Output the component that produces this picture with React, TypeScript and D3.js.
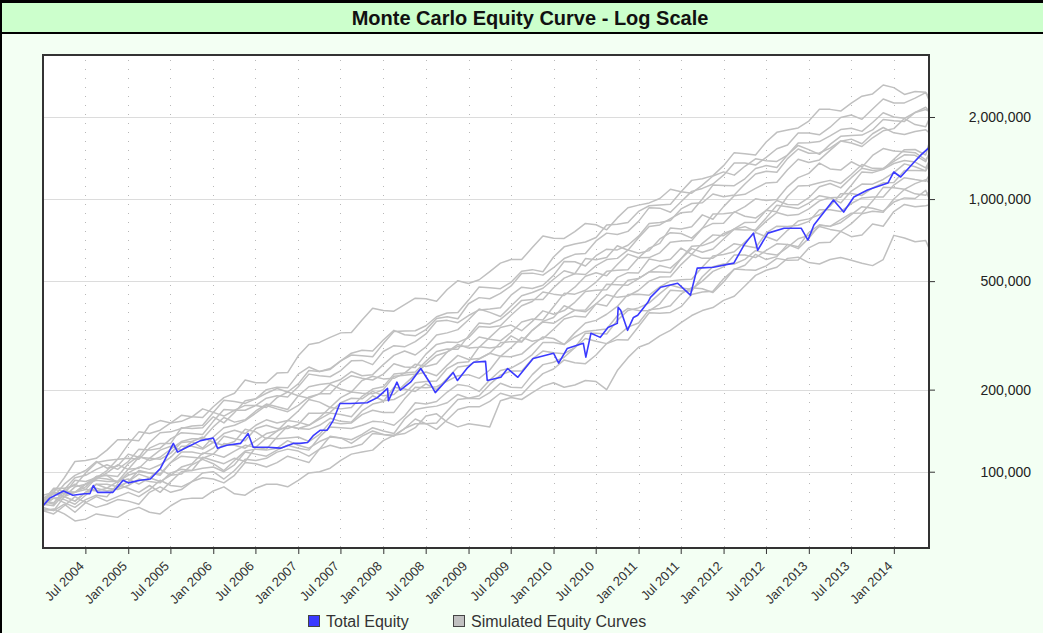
import { useEffect, useRef } from "react";
import * as d3 from "d3";

// x axis tick dates (every 6 months)
const tickDates = [
  "2004-07-01", "2005-01-01", "2005-07-01", "2006-01-01", "2006-07-01",
  "2007-01-01", "2007-07-01", "2008-01-01", "2008-07-01", "2009-01-01",
  "2009-07-01", "2010-01-01", "2010-07-01", "2011-01-01", "2011-07-01",
  "2012-01-01", "2012-07-01", "2013-01-01", "2013-07-01", "2014-01-01",
];
const yTicks = [100000, 200000, 500000, 1000000, 2000000];

// Total Equity: [year, equity in $000]
const totalEquity: [number, number][] = [
  [2004.0, 75], [2004.08, 80], [2004.24, 85], [2004.35, 82], [2004.49, 83],
  [2004.55, 83], [2004.59, 89], [2004.64, 84], [2004.75, 84], [2004.82, 84],
  [2004.94, 93], [2005.0, 91], [2005.14, 93], [2005.26, 94], [2005.38, 103],
  [2005.49, 120], [2005.53, 127], [2005.58, 118], [2005.69, 123], [2005.85, 130],
  [2006.0, 133], [2006.05, 122], [2006.16, 125], [2006.32, 127], [2006.41, 138],
  [2006.47, 123], [2006.64, 123], [2006.79, 122], [2006.94, 127], [2007.02, 127],
  [2007.11, 128], [2007.18, 136], [2007.26, 142], [2007.34, 142], [2007.41, 154],
  [2007.49, 178], [2007.61, 178], [2007.81, 179], [2007.93, 187], [2008.05, 202],
  [2008.06, 182], [2008.16, 213], [2008.2, 199], [2008.32, 213], [2008.44, 239],
  [2008.55, 211], [2008.61, 195], [2008.71, 211], [2008.82, 231], [2008.87, 216],
  [2008.99, 241], [2009.06, 252], [2009.2, 254], [2009.22, 216], [2009.38, 222],
  [2009.46, 239], [2009.58, 222], [2009.76, 260], [2010.0, 272], [2010.06, 250],
  [2010.16, 283], [2010.35, 296], [2010.38, 263], [2010.44, 322], [2010.55, 311],
  [2010.64, 338], [2010.75, 350], [2010.76, 401], [2010.79, 391], [2010.87, 330],
  [2010.94, 368], [2010.99, 375], [2011.11, 418], [2011.14, 436], [2011.26, 475],
  [2011.46, 491], [2011.61, 444], [2011.69, 558], [2011.88, 562], [2012.12, 582],
  [2012.24, 678], [2012.35, 750], [2012.4, 649], [2012.52, 750], [2012.71, 782],
  [2012.91, 782], [2012.99, 707], [2013.06, 803], [2013.29, 992], [2013.41, 896],
  [2013.53, 1017], [2013.69, 1079], [2013.93, 1145], [2014.0, 1257], [2014.08, 1205],
  [2014.24, 1368], [2014.32, 1452], [2014.41, 1540],
];

// Simulated equity curves ($000), one value every 1.5 months from Jan 2004,
// last value at the end of the chart (Jun 2014)
const sim01 = [78, 87, 87, 89, 99, 108, 110, 111, 126, 140, 138, 142, 151, 161, 159, 158, 173, 187, 194, 217, 212, 212, 230, 231, 266, 293, 298, 311, 323, 324, 360, 398, 390, 388, 410, 433, 431, 422, 466, 502, 490, 506, 542, 582, 600, 600, 664, 732, 718, 717, 760, 814, 805, 771, 853, 929, 950, 968, 1005, 1086, 1064, 1051, 1125, 1215, 1258, 1224, 1319, 1405, 1383, 1374, 1450, 1573, 1518, 1459, 1587, 1699, 1712, 1717, 1793, 1959, 1938, 1927, 2077, 2130, 2100];
const sim02 = [76, 75, 83, 93, 92, 95, 101, 111, 112, 111, 122, 127, 127, 145, 144, 145, 159, 151, 165, 182, 185, 194, 202, 196, 210, 235, 233, 237, 255, 268, 266, 264, 295, 327, 328, 329, 343, 370, 382, 384, 426, 476, 473, 469, 495, 544, 551, 541, 613, 668, 684, 696, 723, 804, 808, 820, 901, 945, 952, 958, 1064, 1171, 1188, 1219, 1326, 1480, 1466, 1450, 1620, 1757, 1791, 1824, 1932, 2134, 2133, 2102, 2247, 2385, 2430, 2621, 2563, 2420, 2479, 2466, 2310];
const sim03 = [80, 81, 90, 97, 101, 109, 103, 105, 116, 113, 128, 139, 140, 144, 147, 148, 165, 183, 181, 178, 185, 200, 204, 203, 228, 242, 233, 239, 255, 272, 279, 277, 304, 330, 318, 315, 332, 365, 370, 364, 413, 435, 431, 451, 480, 533, 535, 526, 560, 605, 627, 631, 702, 750, 741, 761, 828, 930, 926, 895, 978, 1067, 1094, 1136, 1224, 1355, 1356, 1333, 1422, 1530, 1578, 1746, 1748, 1720, 1835, 1992, 2033, 1961, 2140, 2327, 2250, 2252, 2345, 2457, 2380];
const sim04 = [78, 76, 86, 95, 97, 102, 106, 102, 109, 121, 120, 122, 132, 139, 138, 137, 153, 169, 168, 168, 175, 186, 190, 188, 205, 228, 225, 223, 235, 255, 256, 247, 276, 290, 287, 300, 320, 356, 359, 352, 374, 392, 395, 399, 444, 475, 470, 483, 525, 590, 589, 568, 620, 655, 651, 677, 731, 814, 820, 835, 920, 963, 969, 1044, 1020, 1035, 1136, 1236, 1264, 1255, 1407, 1526, 1472, 1475, 1538, 1634, 1605, 1559, 1678, 1780, 1813, 1974, 1876, 1841, 1960];
const sim05 = [76, 84, 83, 84, 90, 96, 97, 96, 107, 114, 110, 113, 121, 129, 132, 132, 146, 158, 152, 155, 167, 177, 173, 169, 190, 205, 209, 211, 218, 233, 225, 227, 247, 267, 277, 268, 287, 317, 323, 332, 361, 395, 384, 371, 405, 442, 454, 471, 508, 546, 532, 529, 570, 600, 606, 650, 633, 647, 714, 753, 748, 719, 781, 882, 884, 893, 938, 1002, 988, 996, 1109, 1199, 1242, 1355, 1290, 1277, 1370, 1309, 1446, 1532, 1500, 1490, 1480, 1392, 1450];
const sim06 = [78, 83, 81, 84, 90, 93, 92, 92, 102, 113, 112, 111, 117, 128, 129, 122, 134, 145, 148, 154, 164, 175, 170, 166, 175, 188, 193, 193, 213, 225, 220, 217, 228, 249, 242, 241, 270, 293, 299, 298, 310, 341, 339, 343, 375, 406, 421, 456, 448, 443, 475, 521, 537, 523, 575, 628, 609, 610, 635, 695, 702, 704, 781, 814, 816, 899, 865, 852, 909, 899, 1024, 1116, 1122, 1147, 1171, 1141, 1231, 1339, 1296, 1295, 1375, 1453, 1447, 1371, 1470];
const sim07 = [77, 86, 85, 84, 88, 96, 97, 91, 99, 104, 102, 106, 113, 124, 124, 121, 128, 138, 142, 138, 148, 155, 151, 154, 167, 184, 180, 172, 187, 196, 194, 193, 200, 224, 226, 228, 248, 267, 275, 293, 284, 286, 311, 338, 345, 329, 356, 389, 378, 390, 418, 458, 463, 465, 516, 537, 536, 603, 592, 601, 661, 627, 688, 739, 734, 778, 821, 822, 909, 988, 955, 954, 1012, 1109, 1141, 1099, 1198, 1297, 1273, 1285, 1350, 1386, 1367, 1301, 1372];
const sim08 = [80, 84, 83, 84, 86, 95, 94, 92, 97, 100, 99, 98, 108, 118, 118, 116, 122, 135, 132, 130, 144, 148, 144, 144, 149, 164, 164, 165, 179, 186, 185, 197, 190, 192, 209, 227, 232, 225, 246, 267, 258, 260, 272, 297, 300, 299, 330, 356, 368, 406, 391, 386, 413, 405, 458, 504, 511, 541, 571, 558, 604, 658, 638, 656, 714, 776, 792, 762, 830, 893, 870, 877, 920, 985, 1012, 1015, 1124, 1258, 1250, 1285, 1400, 1518, 1520, 1451, 1600];
const sim09 = [75, 80, 81, 78, 84, 90, 90, 88, 92, 101, 99, 97, 108, 114, 113, 112, 116, 127, 125, 122, 130, 138, 141, 154, 152, 148, 156, 164, 162, 159, 176, 190, 182, 184, 193, 212, 214, 215, 239, 251, 253, 287, 284, 288, 315, 300, 330, 354, 350, 371, 391, 392, 434, 487, 485, 483, 511, 541, 540, 538, 604, 671, 675, 697, 748, 774, 770, 771, 853, 949, 938, 923, 966, 1029, 1012, 968, 1070, 1135, 1134, 1180, 1250, 1346, 1313, 1269, 1330];
const sim10 = [78, 84, 81, 78, 84, 87, 85, 87, 92, 98, 95, 92, 97, 104, 107, 117, 116, 113, 119, 125, 123, 121, 134, 147, 144, 143, 148, 157, 153, 152, 167, 177, 181, 204, 201, 197, 210, 200, 220, 242, 245, 259, 272, 265, 285, 311, 301, 307, 333, 363, 372, 369, 413, 446, 436, 441, 463, 500, 518, 519, 575, 626, 606, 607, 646, 686, 674, 663, 751, 795, 793, 802, 828, 914, 913, 900, 963, 1010, 1018, 1018, 1125, 1198, 1179, 1163, 1218];
const sim11 = [76, 80, 79, 76, 82, 90, 87, 86, 89, 94, 92, 91, 99, 102, 101, 113, 110, 107, 112, 109, 123, 133, 132, 133, 134, 129, 137, 152, 150, 151, 162, 168, 165, 165, 185, 204, 203, 205, 215, 225, 227, 220, 236, 265, 264, 270, 292, 312, 308, 293, 323, 351, 359, 378, 404, 447, 448, 444, 476, 501, 506, 508, 563, 618, 626, 641, 696, 754, 727, 703, 768, 831, 846, 876, 942, 1045, 1049, 1031, 1099, 1147, 1150, 1272, 1273, 1270, 1372];
const sim12 = [76, 80, 77, 74, 79, 82, 81, 90, 87, 84, 89, 84, 92, 100, 101, 103, 104, 100, 106, 118, 116, 114, 120, 125, 122, 120, 134, 146, 145, 144, 148, 153, 152, 148, 160, 179, 177, 181, 196, 209, 206, 197, 217, 235, 240, 252, 269, 298, 298, 293, 312, 327, 330, 334, 373, 397, 390, 389, 413, 463, 460, 460, 519, 565, 578, 578, 601, 647, 632, 623, 665, 715, 736, 793, 774, 762, 813, 883, 902, 894, 1000, 1084, 1045, 1033, 1064];
const sim13 = [74, 72, 76, 71, 77, 81, 78, 81, 84, 81, 86, 93, 89, 88, 92, 99, 100, 94, 101, 111, 110, 112, 118, 121, 119, 114, 121, 135, 133, 131, 137, 145, 141, 138, 156, 169, 172, 174, 179, 192, 186, 190, 209, 226, 234, 234, 259, 277, 273, 271, 285, 322, 322, 320, 359, 390, 399, 416, 450, 484, 472, 467, 500, 543, 564, 623, 623, 610, 648, 685, 682, 658, 718, 801, 794, 819, 877, 938, 926, 903, 975, 1010, 1005, 1077, 1008];
const sim14 = [72, 70, 75, 81, 77, 74, 76, 79, 78, 76, 84, 88, 84, 86, 92, 95, 94, 91, 97, 108, 107, 104, 108, 114, 111, 108, 121, 125, 122, 123, 126, 138, 137, 135, 144, 150, 150, 151, 167, 184, 186, 185, 195, 211, 204, 203, 227, 247, 252, 263, 285, 308, 301, 295, 314, 339, 351, 393, 397, 406, 449, 473, 469, 454, 496, 554, 550, 548, 569, 606, 597, 598, 662, 692, 694, 761, 728, 738, 810, 795, 900, 956, 938, 945, 952];
const sim15 = [72, 73, 70, 66, 67, 70, 69, 68, 72, 74, 71, 70, 75, 79, 80, 80, 85, 88, 83, 82, 87, 90, 90, 88, 93, 99, 100, 103, 110, 116, 118, 120, 130, 136, 138, 145, 160, 163, 152, 146, 150, 148, 146, 182, 187, 184, 195, 206, 212, 204, 208, 216, 214, 200, 235, 262, 286, 296, 315, 330, 352, 374, 390, 400, 425, 440, 480, 525, 548, 562, 606, 612, 585, 578, 600, 610, 596, 582, 570, 600, 736, 720, 697, 705, 660];
const sim16 = [78, 77, 85, 90, 86, 85, 87, 92, 94, 90, 95, 102, 97, 98, 106, 111, 107, 101, 110, 119, 121, 120, 122, 130, 125, 122, 129, 134, 133, 127, 135, 141, 137, 136, 144, 156, 150, 143, 155, 169, 173, 173, 181, 194, 189, 192, 211, 229, 238, 257, 251, 249, 268, 295, 305, 304, 341, 383, 381, 384, 403, 447, 456, 459, 510, 552, 572, 627, 600, 615, 682, 668, 754, 805, 794, 841, 888, 889, 983, 1104, 1100, 1086, 1139, 1178, 1148];
const sim17 = [82, 84, 95, 109, 110, 112, 120, 131, 131, 130, 148, 154, 151, 153, 159, 170, 165, 160, 168, 175, 175, 172, 187, 196, 190, 186, 193, 209, 201, 196, 216, 224, 219, 220, 230, 248, 243, 249, 275, 288, 289, 312, 306, 302, 324, 354, 363, 360, 403, 451, 448, 463, 496, 543, 548, 550, 609, 661, 688, 783, 776, 792, 875, 843, 938, 1029, 1041, 1094, 1146, 1152, 1280, 1400, 1362, 1392, 1508, 1631, 1659, 1596, 1736, 1830, 1750, 1724, 1769, 1795, 1750];
const sim18 = [73, 72, 81, 88, 90, 94, 99, 106, 102, 103, 112, 120, 124, 120, 129, 134, 128, 125, 129, 143, 140, 132, 141, 147, 144, 148, 158, 172, 170, 172, 189, 201, 205, 228, 230, 232, 254, 276, 282, 281, 315, 351, 348, 362, 390, 425, 428, 428, 473, 513, 532, 605, 599, 611, 674, 649, 721, 793, 804, 848, 891, 898, 1000, 1125, 1122, 1120, 1187, 1295, 1327, 1305, 1450, 1607, 1610, 1625, 1706, 1798, 1819, 1771, 1909, 2072, 2000, 1977, 2077, 2172, 2100];

const simulated = [
  sim01, sim02, sim03, sim04, sim05, sim06, sim07, sim08, sim09,
  sim10, sim11, sim12, sim13, sim14, sim15, sim16, sim17, sim18,
];

const W = 1043;
const H = 633;
const FONT = "'Liberation Sans', Arial, Helvetica, sans-serif";

const fromYear = (yr: number) => {
  const y0 = Math.floor(yr);
  const a = +new Date(y0, 0, 1);
  const b = +new Date(y0 + 1, 0, 1);
  return new Date(a + (yr - y0) * (b - a));
};

const App = () => {
  const svgRef = useRef<SVGSVGElement>(null);

  useEffect(() => {
    const svg = d3.select(svgRef.current);
    svg.selectAll("*").remove();

    const plot = { left: 43, top: 55, right: 929, bottom: 548 };
    const parse = d3.timeParse("%Y-%m-%d");
    const ticks = tickDates.map((d) => parse(d) as Date);
    const endDate = new Date(2014, 5, 1);

    const x = d3
      .scaleTime()
      .domain([new Date(2004, 0, 1), endDate])
      .range([plot.left, plot.right]);
    const y = d3
      .scaleLog()
      .domain([52500, 3376000])
      .range([plot.bottom, plot.top]);

    const simDate = (i: number, n: number) =>
      i === n - 1 ? endDate : fromYear(2004 + i / 8);

    // page + title bar
    svg.append("rect").attr("width", W).attr("height", H).attr("fill", "#f3fff3");
    svg.append("rect").attr("width", W).attr("height", 33).attr("fill", "#ccffcc");
    svg.append("rect").attr("width", W).attr("height", 3).attr("fill", "#000");
    svg.append("rect").attr("y", 32).attr("width", W).attr("height", 2).attr("fill", "#000");
    svg.append("rect").attr("width", 2).attr("height", H).attr("fill", "#000");
    svg
      .append("text")
      .attr("x", 530)
      .attr("y", 25)
      .attr("text-anchor", "middle")
      .attr("font-family", FONT)
      .attr("font-weight", "bold")
      .attr("font-size", 20)
      .attr("fill", "#111")
      .text("Monte Carlo Equity Curve - Log Scale");

    // plot area
    svg
      .append("rect")
      .attr("x", plot.left)
      .attr("y", plot.top)
      .attr("width", plot.right - plot.left)
      .attr("height", plot.bottom - plot.top)
      .attr("fill", "#fff");

    svg
      .append("g")
      .selectAll("line")
      .data(ticks)
      .join("line")
      .attr("x1", (d) => Math.round(x(d)) + 0.5)
      .attr("x2", (d) => Math.round(x(d)) + 0.5)
      .attr("y1", plot.top + 5)
      .attr("y2", plot.bottom)
      .attr("stroke", "#b8b8b8")
      .attr("stroke-dasharray", "1 8");

    svg
      .append("g")
      .selectAll("line")
      .data(yTicks)
      .join("line")
      .attr("x1", plot.left)
      .attr("x2", plot.right)
      .attr("y1", (d) => Math.round(y(d)) + 0.5)
      .attr("y2", (d) => Math.round(y(d)) + 0.5)
      .attr("stroke", "#dcdcdc");

    svg
      .append("clipPath")
      .attr("id", "plotClip")
      .append("rect")
      .attr("x", plot.left)
      .attr("y", plot.top)
      .attr("width", plot.right - plot.left)
      .attr("height", plot.bottom - plot.top);

    const lines = svg.append("g").attr("clip-path", "url(#plotClip)");

    lines
      .selectAll("path.sim")
      .data(simulated)
      .join("path")
      .attr("class", "sim")
      .attr("d", (vals) =>
        d3
          .line<number>()
          .x((_, i) => x(simDate(i, vals.length)))
          .y((v) => y(v * 1000))(vals)
      )
      .attr("fill", "none")
      .attr("stroke", "#c0c0c0")
      .attr("stroke-width", 1.5)
      .attr("stroke-linejoin", "round");

    const eqLine = d3
      .line<[number, number]>()
      .x((d) => x(fromYear(d[0])))
      .y((d) => y(d[1] * 1000));

    lines
      .append("path")
      .datum(totalEquity)
      .attr("d", eqLine)
      .attr("fill", "none")
      .attr("stroke", "#3a3aff")
      .attr("stroke-width", 1.6)
      .attr("stroke-linejoin", "round");

    // frame
    svg
      .append("rect")
      .attr("x", plot.left)
      .attr("y", plot.top)
      .attr("width", plot.right - plot.left)
      .attr("height", plot.bottom - plot.top)
      .attr("fill", "none")
      .attr("stroke", "#333")
      .attr("stroke-width", 2);

    // right axis
    const yAxis = svg
      .append("g")
      .attr("transform", `translate(${plot.right},0)`)
      .call(
        d3
          .axisRight(y)
          .tickValues(yTicks)
          .tickSize(6)
          .tickFormat((d) => d3.format(",")(d as number))
      );
    yAxis.select(".domain").remove();
    yAxis.selectAll(".tick line").attr("stroke", "#333");
    yAxis
      .selectAll(".tick text")
      .attr("x", 102)
      .attr("text-anchor", "end")
      .attr("font-family", FONT)
      .attr("font-size", 14)
      .attr("fill", "#222");

    // bottom axis
    const xAxis = svg
      .append("g")
      .attr("transform", `translate(0,${plot.bottom})`)
      .call(
        d3
          .axisBottom(x)
          .tickValues(ticks)
          .tickSize(6)
          .tickFormat((d) => d3.timeFormat("%b %Y")(d as Date))
      );
    xAxis.select(".domain").remove();
    xAxis.selectAll(".tick line").attr("stroke", "#333");
    xAxis
      .selectAll(".tick text")
      .attr("font-family", FONT)
      .attr("font-size", 13)
      .attr("fill", "#333")
      .attr("text-anchor", "end")
      .attr("y", 0)
      .attr("dy", 0)
      .attr("transform", "translate(-1,19) rotate(-45)");

    // legend
    const legend = [
      { label: "Total Equity", color: "#3a3aff", x: 308 },
      { label: "Simulated Equity Curves", color: "#c0c0c0", x: 453 },
    ];
    const lg = svg
      .append("g")
      .selectAll("g")
      .data(legend)
      .join("g")
      .attr("transform", (d) => `translate(${d.x},615)`);
    lg.append("rect")
      .attr("x", 0.5)
      .attr("y", 0.5)
      .attr("width", 11)
      .attr("height", 11)
      .attr("fill", (d) => d.color)
      .attr("stroke", "#444");
    lg.append("text")
      .attr("x", 18)
      .attr("y", 12)
      .attr("font-family", FONT)
      .attr("font-size", 16)
      .attr("fill", "#333")
      .text((d) => d.label);
  }, []);

  return (
    <div style={{ position: "absolute", left: 0, top: 0 }}>
      <svg ref={svgRef} width={W} height={H} style={{ display: "block" }} />
    </div>
  );
};

export default App;
